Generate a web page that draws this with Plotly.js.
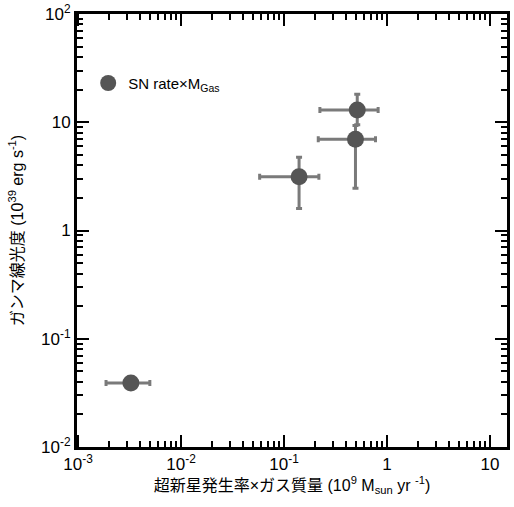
<!DOCTYPE html>
<html>
<head>
<meta charset="utf-8">
<script src="https://cdn.plot.ly/plotly-3.0.1.min.js"></script>
<style>html,body{margin:0;padding:0;background:#fff;}#chart{width:514px;height:507px;}</style>
</head>
<body>
<div id="chart"></div>
<script>
// Data
const xVals = [0.00326, 0.140, 0.514, 0.494];
const yVals = [0.039, 3.14, 12.97, 6.95];
const xErrPlus = [0.00172, 0.078, 0.306, 0.279];
const xErrMinus = [0.00139, 0.082, 0.291, 0.279];
const yErrPlus = [0.005, 1.61, 5.2, 2.4];
const yErrMinus = [0.004, 1.54, 3.5, 4.5];
const seriesName = 'SN rate×M<sub>Gas</sub>';

const xTickVals = [0.001, 0.01, 0.1, 1, 10];
const xTickText = ['10<sup>-3</sup>', '10<sup>-2</sup>', '10<sup>-1</sup>', '1', '10'];
const yTickVals = [0.01, 0.1, 1, 10, 100];
const yTickText = ['10<sup>-2</sup>', '10<sup>-1</sup>', '1', '10', '10<sup>2</sup>'];

const xTitle = '超新星発生率×ガス質量 (10<sup>9</sup> M<sub>sun</sub> yr <sup>-1</sup>)';
const yTitle = 'ガンマ線光度 (10<sup>39</sup> erg s<sup>-1</sup>)';

const font = 'Liberation Sans, Arial, Noto Sans CJK JP, sans-serif';

const trace = {
  x: xVals, y: yVals, type: 'scatter', mode: 'markers', name: seriesName,
  marker: {color: '#555555', size: 17},
  error_x: {type: 'data', array: xErrPlus, arrayminus: xErrMinus, color: '#7a7a7a', thickness: 3, width: 3},
  error_y: {type: 'data', array: yErrPlus, arrayminus: yErrMinus, color: '#7a7a7a', thickness: 3, width: 3}
};

const axisCommon = {
  type: 'log', showgrid: false, zeroline: false, showline: true, linecolor: '#000', linewidth: 3,
  mirror: 'ticks', ticks: 'inside', ticklen: 12, tickwidth: 2, tickcolor: '#000',
  tickmode: 'array', tickfont: {family: font, size: 17, color: '#000'},
  minor: {ticks: 'inside', ticklen: 6, tickwidth: 2, tickcolor: '#000', dtick: 'D1', showgrid: false}
};

const layout = {
  width: 514, height: 507,
  margin: {l: 77, r: 7, t: 14, b: 60},
  paper_bgcolor: '#fff', plot_bgcolor: '#fff',
  font: {family: font, color: '#000'},
  showlegend: true,
  legend: {x: 0.026, y: 0.84, xanchor: 'left', yanchor: 'middle', bgcolor: 'rgba(0,0,0,0)', font: {family: font, size: 15, color: '#000'}},
  xaxis: Object.assign({}, axisCommon, {
    range: [-3.01, 1.165], tickvals: xTickVals, ticktext: xTickText,
    title: {text: xTitle, font: {family: font, size: 16, color: '#000'}, standoff: 6}
  }),
  yaxis: Object.assign({}, axisCommon, {
    range: [-2.0, 2.0], tickvals: yTickVals, ticktext: yTickText,
    title: {text: yTitle, font: {family: font, size: 16, color: '#000'}, standoff: 14}
  })
};

Plotly.newPlot('chart', [trace], layout, {displayModeBar: false, staticPlot: true});
</script>
</body>
</html>
